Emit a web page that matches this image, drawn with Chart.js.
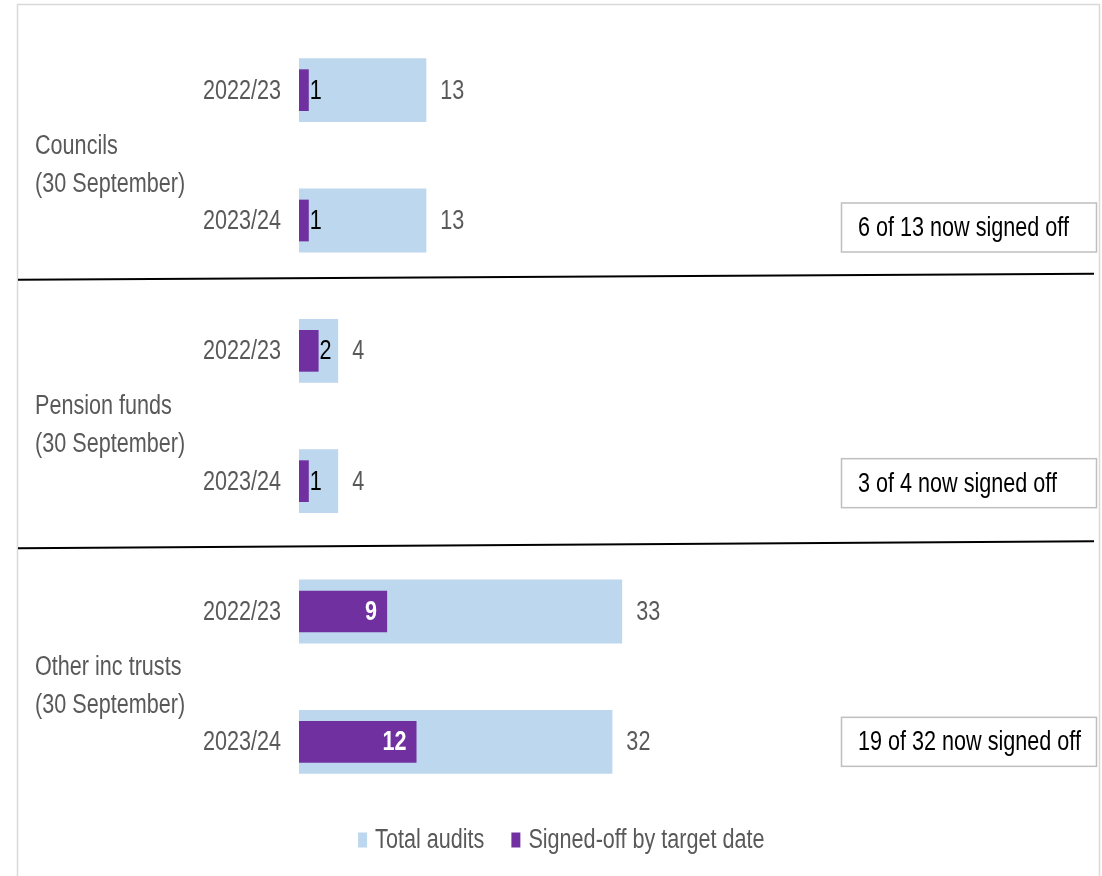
<!DOCTYPE html>
<html>
<head>
<meta charset="utf-8">
<script src="https://cdn.jsdelivr.net/npm/chart.js@4.4.1/dist/chart.umd.min.js"></script>
<style>
	html, body { margin: 0; padding: 0; background: #fff; }
	#wrap { width: 1102px; height: 876px; position: relative; }
</style>
</head>
<body>
<div id="wrap"><canvas id="chart" width="1102" height="876"></canvas></div>
<script>
"use strict";

// Chart data
var yearLabels  = [ '2022/23', '2023/24', '2022/23', '2023/24', '2022/23', '2023/24' ];
var groupNames  = [ 'Councils', 'Pension funds', 'Other inc trusts' ];
var groupNote   = '(30 September)';
var totalAudits = [ 13, 13, 4, 4, 33, 32 ];
var signedOff   = [ 1, 1, 2, 1, 9, 12 ];
var nowSigned   = [ '6 of 13 now signed off', '3 of 4 now signed off', '19 of 32 now signed off' ];

var FONT   = '"Liberation Sans", Arial, sans-serif';
var GREY   = '#595959';
var BLUE   = '#BDD7EE';
var PURPLE = '#7030A0';

Chart.defaults.font.family = FONT;
Chart.defaults.font.size = 22;
Chart.defaults.color = GREY;

// the original uses a tall, condensed face - squeeze regular text horizontally
function drawText( ctx, text, x, y, color, align, bold ) {
	ctx.save();
	ctx.font = ( bold ? 'bold ' : '' ) + '27px ' + FONT;
	ctx.fillStyle = color;
	ctx.textAlign = align || 'left';
	ctx.textBaseline = 'middle';
	ctx.translate( x, y );
	ctx.scale( 0.8, 1 );
	ctx.fillText( text, 0, 0 );
	ctx.restore();
}

// Year labels and value labels next to / inside the bars
var valueLabels = {
	id: 'valueLabels',
	afterDatasetsDraw: function( chart ) {
		var ctx = chart.ctx, y = chart.scales.y;
		yearLabels.forEach( function( lbl, i ) {
			drawText( ctx, lbl, y.right - 18, y.getPixelForValue( i ) + 1, GREY, 'right' );
		} );
		chart.getDatasetMeta( 0 ).data.forEach( function( bar, i ) {
			drawText( ctx, String( totalAudits[i] ), bar.x + 14, bar.y + 1, GREY, 'left' );
		} );
		chart.getDatasetMeta( 1 ).data.forEach( function( bar, i ) {
			if ( signedOff[i] >= 5 ) {
				drawText( ctx, String( signedOff[i] ), bar.x - 10, bar.y + 1, '#fff', 'right', true );
			} else {
				drawText( ctx, String( signedOff[i] ), bar.x + 1, bar.y + 1, '#000', 'left' );
			}
		} );
	}
};

// Group labels, separators, notes, legend text and the outer frame
var sepOffsets  = [ [ -6, -12 ], [ 2, -5 ] ];
var noteOffsets = [ 7, 2, 0 ];
var decorations = {
	id: 'decorations',
	afterDraw: function( chart ) {
		var ctx = chart.ctx, y = chart.scales.y;
		var W = chart.width;
		ctx.save();
		// outer frame
		ctx.strokeStyle = '#d9d9d9';
		ctx.lineWidth = 1.5;
		ctx.strokeRect( 17.5, 4.5, W - 20, chart.height + 10 );

		groupNames.forEach( function( name, g ) {
			var y1 = y.getPixelForValue( g * 2 ), y2 = y.getPixelForValue( g * 2 + 1 );
			var mid = ( y1 + y2 ) / 2 + 10;
			drawText( ctx, name, 35, mid - 19, GREY );
			drawText( ctx, groupNote, 35, mid + 19, GREY );

			// note box
			var by = y2 + noteOffsets[g];
			ctx.strokeStyle = '#bfbfbf';
			ctx.lineWidth = 1.5;
			ctx.strokeRect( 841.5, by - 24.5, 255, 49 );
			drawText( ctx, nowSigned[g], 858, by + 1, '#000' );

			// separator below the group
			if ( g < groupNames.length - 1 ) {
				var y3 = y.getPixelForValue( g * 2 + 2 );
				var b = ( y2 + y3 ) / 2;
				ctx.strokeStyle = '#000';
				ctx.lineWidth = 2;
				ctx.beginPath();
				ctx.moveTo( 18, b + sepOffsets[g][0] );
				ctx.lineTo( 1094, b + sepOffsets[g][1] );
				ctx.stroke();
			}
		} );

		// legend text, placed in the boxes laid out by the legend
		var lg = chart.legend;
		lg.legendItems.forEach( function( item, i ) {
			var hb = lg.legendHitBoxes[i];
			drawText( ctx, item.text, hb.left + 9 + 8, hb.top + hb.height / 2 + 1, GREY );
		} );
		ctx.restore();
	}
};

var config = {
	type: 'bar',
	data: {
		labels: yearLabels,
		datasets: [
			{
				label: 'Total audits',
				data: totalAudits,
				backgroundColor: BLUE,
				barPercentage: 0.49,
				categoryPercentage: 1,
				grouped: false,
				order: 1
			},
			{
				label: 'Signed-off by target date',
				data: signedOff,
				backgroundColor: PURPLE,
				barPercentage: 0.32,
				categoryPercentage: 1,
				grouped: false,
				order: 0
			}
		]
	},
	options: {
		indexAxis: 'y',
		responsive: false,
		animation: false,
		layout: { padding: { top: 25, right: 0, bottom: 15, left: 28 } },
		scales: {
			x: {
				min: 0,
				max: 82,
				display: false
			},
			y: {
				grid: { display: false, drawTicks: false },
				border: { display: false },
				ticks: { display: false },
				afterFit: function( scale ) { scale.width = 271; }
			}
		},
		plugins: {
			tooltip: { enabled: false },
			legend: {
				position: 'bottom',
				labels: {
					boxWidth: 9,
					boxHeight: 15,
					padding: 22,
					color: 'rgba(0,0,0,0)',
					font: { size: 22 },
					sort: function( a, b ) { return a.datasetIndex - b.datasetIndex; }
				}
			}
		}
	},
	plugins: [ valueLabels, decorations ]
};

new Chart( document.getElementById( 'chart' ), config );
</script>
</body>
</html>
